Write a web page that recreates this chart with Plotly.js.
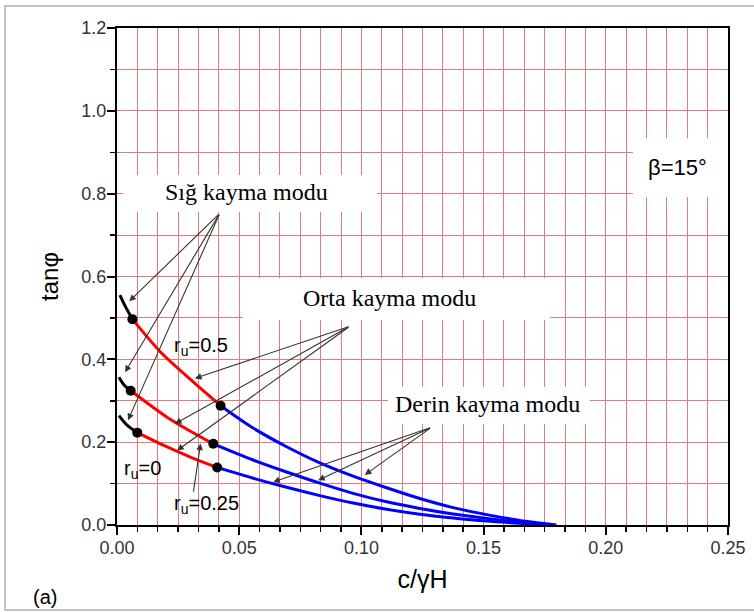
<!DOCTYPE html>
<html>
<head>
<meta charset="utf-8">
<script src="https://cdn.plot.ly/plotly-3.0.1.min.js"></script>
<style>html,body{margin:0;padding:0;background:#fff;}</style>
</head>
<body>
<div id="chart" style="width:754px;height:612px;"></div>
<script>
// ru = 0 (lowest curve)
const ru0BlackX = [0.0008, 0.0041, 0.0083];
const ru0BlackY = [0.264, 0.241, 0.223];
const ru0RedX = [0.0083, 0.0203, 0.0312, 0.0410];
const ru0RedY = [0.223, 0.189, 0.161, 0.139];
const ru0BlueX = [0.0410, 0.0557, 0.0694, 0.0830, 0.0966, 0.1103, 0.1239, 0.1375, 0.1512, 0.1648, 0.1757];
const ru0BlueY = [0.139, 0.113, 0.091, 0.071, 0.053, 0.038, 0.026, 0.017, 0.0095, 0.004, 0.0];

// ru = 0.25 (middle curve)
const ru25BlackX = [0.0008, 0.0029, 0.0056];
const ru25BlackY = [0.357, 0.338, 0.324];
const ru25RedX = [0.0056, 0.0203, 0.0299, 0.0394];
const ru25RedY = [0.324, 0.261, 0.227, 0.196];
const ru25BlueX = [0.0394, 0.0557, 0.0694, 0.0830, 0.0966, 0.1103, 0.1239, 0.1375, 0.1512, 0.1648, 0.1785];
const ru25BlueY = [0.196, 0.157, 0.128, 0.101, 0.0765, 0.056, 0.040, 0.0266, 0.016, 0.0068, 0.0];

// ru = 0.5 (top curve)
const ru50BlackX = [0.0012, 0.0033, 0.0063];
const ru50BlackY = [0.555, 0.529, 0.497];
const ru50RedX = [0.0063, 0.0176, 0.0299, 0.0424];
const ru50RedY = [0.497, 0.419, 0.352, 0.288];
const ru50BlueX = [0.0424, 0.0557, 0.0694, 0.0830, 0.0966, 0.1103, 0.1239, 0.1375, 0.1512, 0.1648, 0.1798];
const ru50BlueY = [0.288, 0.234, 0.189, 0.150, 0.118, 0.090, 0.064, 0.042, 0.025, 0.011, 0.0];

// tick labels (major) and grid steps
const xTickVals = [0.00, 0.05, 0.10, 0.15, 0.20, 0.25];
const xTickText = ['0.00', '0.05', '0.10', '0.15', '0.20', '0.25'];
const yTickVals = [0.0, 0.2, 0.4, 0.6, 0.8, 1.0, 1.2];
const yTickText = ['0.0', '0.2', '0.4', '0.6', '0.8', '1.0', '1.2'];
const xGridDivisions = 30;   // grid every 0.25/30
const yGridDivisions = 12;   // grid every 0.1

const xGridVals = [], xGridText = [];
for (let i = 0; i <= xGridDivisions; i++) {
  const v = 0.25 * i / xGridDivisions;
  xGridVals.push(v);
  const k = xTickVals.findIndex(t => Math.abs(t - v) < 1e-9);
  xGridText.push(k >= 0 ? xTickText[k] : '');
}
const yGridVals = [], yGridText = [];
for (let i = 0; i <= yGridDivisions; i++) {
  const v = 1.2 * i / yGridDivisions;
  yGridVals.push(v);
  const k = yTickVals.findIndex(t => Math.abs(t - v) < 1e-9);
  yGridText.push(k >= 0 ? yTickText[k] : '');
}

const SANS = 'Liberation Sans, Arial, sans-serif';
const SERIF = 'Liberation Serif, Times New Roman, serif';
const GRID = '#e27c7c';

function seg(x, y, color) {
  return {x: x, y: y, type: 'scatter', mode: 'lines', line: {color: color, width: 3, shape: 'spline', smoothing: 0.8}, hoverinfo: 'skip', showlegend: false};
}
function dots(x, y) {
  return {x: x, y: y, type: 'scatter', mode: 'markers', marker: {color: '#000', size: 10}, hoverinfo: 'skip', showlegend: false};
}

const curves = [
  [ru0BlackX, ru0BlackY, ru0RedX, ru0RedY, ru0BlueX, ru0BlueY],
  [ru25BlackX, ru25BlackY, ru25RedX, ru25RedY, ru25BlueX, ru25BlueY],
  [ru50BlackX, ru50BlackY, ru50RedX, ru50RedY, ru50BlueX, ru50BlueY]
];
const traces = [];
curves.forEach(c => {
  traces.push(seg(c[0], c[1], '#000'));
  traces.push(seg(c[2], c[3], '#ff0000'));
  traces.push(seg(c[4], c[5], '#0000ff'));
});
curves.forEach(c => {
  traces.push(dots([c[2][0], c[4][0]], [c[3][0], c[5][0]]));
});
// empty trace to bring up the overlay axes carrying the long major ticks
traces.push({x: [], y: [], type: 'scatter', mode: 'markers', xaxis: 'x2', yaxis: 'y2', showlegend: false, hoverinfo: 'skip'});

// annotation label positions & arrow tips
const sigTail = [0.0421, 0.753];
const sigTips = [[0.0050, 0.540], [0.0033, 0.369], [0.0045, 0.253]];
const ortaTail = [0.0953, 0.480];
const ortaTips = [[0.0319, 0.354], [0.0237, 0.244], [0.0246, 0.180]];
const derinTail = [0.1287, 0.236];
const derinTips = [[0.1014, 0.121], [0.0823, 0.108], [0.0639, 0.1035]];

const annotations = [];
function arrows(tail, tips) {
  tips.forEach(t => annotations.push({
    x: t[0], y: t[1], xref: 'x', yref: 'y', ax: tail[0], ay: tail[1], axref: 'x', ayref: 'y',
    text: '', showarrow: true, arrowhead: 2, arrowsize: 1.2, arrowwidth: 1.1, arrowcolor: '#333', standoff: 0
  }));
}
arrows(sigTail, sigTips);
arrows(ortaTail, ortaTips);
arrows(derinTail, derinTips);
annotations.push({x: 0.0342, y: 0.197, ax: 0.0312, ay: 0.077, xref: 'x', yref: 'y', axref: 'x', ayref: 'y',
  text: '', showarrow: true, arrowhead: 2, arrowsize: 1.2, arrowwidth: 1.1, arrowcolor: '#333', standoff: 0});

function label(x, y, text, font, size, xanchor) {
  annotations.push({x: x, y: y, xref: 'x', yref: 'y', text: text, showarrow: false,
    xanchor: xanchor || 'center', yanchor: 'middle', font: {family: font, size: size, color: '#000'}});
}
label(0.0528, 0.804, 'Sığ kayma modu', SERIF, 24);
label(0.1113, 0.548, 'Orta kayma modu', SERIF, 24);
label(0.1514, 0.292, 'Derin kayma modu', SERIF, 24);
label(0.2295, 0.862, 'β=15°', SANS, 22);
label(0.0225, 0.430, 'r<sub>u</sub>=0.5', SANS, 20, 'left');
label(0.0022, 0.135, 'r<sub>u</sub>=0', SANS, 20, 'left');
label(0.0225, 0.050, 'r<sub>u</sub>=0.25', SANS, 20, 'left');
annotations.push({x: -0.118, y: -0.144, xref: 'paper', yref: 'paper', text: '(a)', showarrow: false,
  xanchor: 'center', yanchor: 'middle', font: {family: SANS, size: 20, color: '#000'}});

function box(x0, x1, y0, y1) {
  return {type: 'rect', xref: 'x', yref: 'y', x0: x0, x1: x1, y0: y0, y1: y1,
    fillcolor: '#fff', line: {width: 0}, layer: 'between'};
}
const shapes = [
  box(0.0025, 0.1064, 0.756, 0.845),
  box(0.0515, 0.1771, 0.495, 0.596),
  box(0.1109, 0.1935, 0.244, 0.333),
  box(0.2111, 0.2500, 0.792, 0.934),
  {type: 'rect', xref: 'paper', yref: 'paper', x0: -0.1833, x1: 1.06, y0: -0.171, y1: 1.0443,
    line: {color: '#c4c4c4', width: 2}, fillcolor: 'rgba(0,0,0,0)', layer: 'above'}
];

const layout = {
  width: 754, height: 612,
  margin: {l: 117, r: 26, t: 28, b: 87},
  paper_bgcolor: '#fff', plot_bgcolor: '#fff',
  showlegend: false,
  xaxis: {
    range: [0, 0.25], tickmode: 'array', tickvals: xGridVals, ticktext: xGridText,
    ticks: 'outside', ticklen: 5, tickwidth: 1.5, tickcolor: '#000',
    showline: true, linewidth: 2, linecolor: '#000', mirror: true,
    showgrid: true, gridcolor: GRID, gridwidth: 1, zeroline: false,
    tickfont: {family: SANS, size: 18, color: '#333'},
    title: {text: 'c/γH', font: {family: SANS, size: 25, color: '#000'}, standoff: 14},
    fixedrange: true
  },
  yaxis: {
    range: [0, 1.2], tickmode: 'array', tickvals: yGridVals, ticktext: yGridText,
    ticks: 'outside', ticklen: 5, tickwidth: 1.5, tickcolor: '#000',
    showline: true, linewidth: 2, linecolor: '#000', mirror: true,
    showgrid: true, gridcolor: GRID, gridwidth: 1, zeroline: false,
    tickfont: {family: SANS, size: 18, color: '#333'},
    title: {text: 'tanφ', font: {family: SANS, size: 24, color: '#000'}, standoff: 16},
    fixedrange: true
  },
  xaxis2: {
    overlaying: 'x', anchor: 'y', side: 'bottom', range: [0, 0.25],
    tickmode: 'array', tickvals: xTickVals, ticks: 'outside', ticklen: 9, tickwidth: 2, tickcolor: '#000',
    showticklabels: false, showgrid: false, zeroline: false, showline: false, fixedrange: true
  },
  yaxis2: {
    overlaying: 'y', anchor: 'x', side: 'left', range: [0, 1.2],
    tickmode: 'array', tickvals: yTickVals, ticks: 'outside', ticklen: 9, tickwidth: 2, tickcolor: '#000',
    showticklabels: false, showgrid: false, zeroline: false, showline: false, fixedrange: true
  },
  annotations: annotations,
  shapes: shapes
};

Plotly.newPlot('chart', traces, layout, {staticPlot: true, displayModeBar: false});
</script>
</body>
</html>
